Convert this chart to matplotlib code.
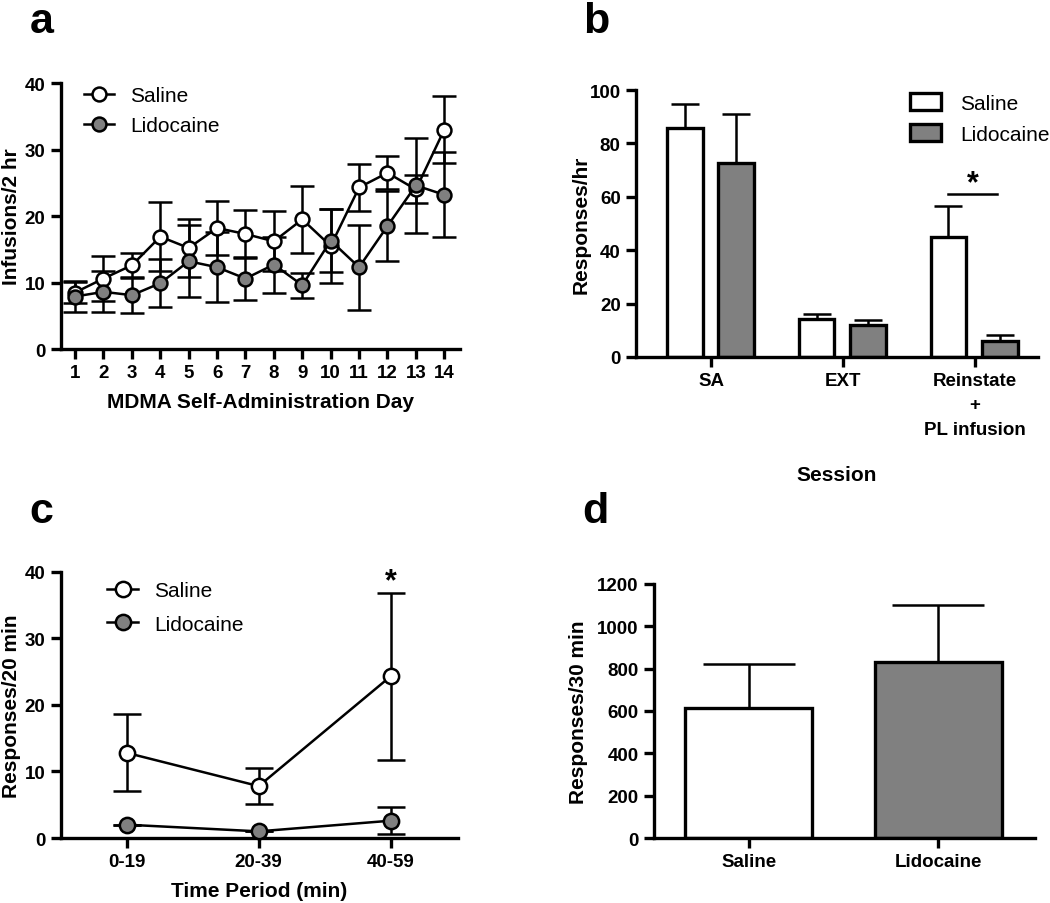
import numpy as np
import matplotlib.pyplot as plt

plt.rcParams['font.family'] = ['Liberation Sans', 'DejaVu Sans']
plt.rcParams['font.weight'] = 'bold'
plt.rcParams['axes.labelweight'] = 'bold'

GREY = '#808080'

# panel a
days = np.arange(1, 15)
sal_a = [8.5, 10.6, 12.6, 16.9, 15.2, 18.2, 17.3, 16.2, 19.5, 15.5, 24.3, 26.5, 24.0, 33.0]
sal_a_err = [1.6, 3.4, 1.9, 5.2, 4.3, 4.1, 3.6, 4.5, 5.0, 5.5, 3.6, 2.5, 2.1, 5.0]
lid_a = [7.9, 8.6, 8.1, 9.9, 13.2, 12.3, 10.6, 12.7, 9.6, 16.3, 12.3, 18.5, 24.6, 23.2]
lid_a_err = [2.4, 3.1, 2.7, 3.6, 5.4, 5.3, 3.2, 4.2, 1.9, 4.7, 6.4, 5.2, 7.2, 6.4]

# panel b
sessions = ['SA', 'EXT', 'Reinstate\n+\nPL infusion']
sal_b = [85.8, 14.1, 45.1]
sal_b_err = [9.1, 1.9, 11.3]
lid_b = [72.5, 12.0, 5.9]
lid_b_err = [18.6, 2.0, 2.2]

# panel c
periods = ['0-19', '20-39', '40-59']
sal_c = [12.8, 7.8, 24.3]
sal_c_err = [5.8, 2.7, 12.6]
lid_c = [2.0, 1.0, 2.6]
lid_c_err = [0.0, 0.0, 2.0]

# panel d
groups = ['Saline', 'Lidocaine']
resp_d = [614, 833]
resp_d_err = [208, 266]

fig = plt.figure(figsize=(10.5, 9.04), dpi=100)


def style(ax):
    for s in ['top', 'right']:
        ax.spines[s].set_visible(False)
    for s in ['left', 'bottom']:
        ax.spines[s].set_linewidth(2.4)
    ax.tick_params(width=2.4, length=7.5, labelsize=13.5, direction='out')


leg_prop = {'weight': 'normal', 'size': 15}
LAB = 15

# ---- a
ax = fig.add_axes([0.058, 0.6128, 0.38, 0.2942])
style(ax)
ax.errorbar(days, sal_a, yerr=sal_a_err, fmt='none', ecolor='k', elinewidth=1.8, capsize=8.5, capthick=1.8, zorder=1)
ax.errorbar(days, lid_a, yerr=lid_a_err, fmt='none', ecolor='k', elinewidth=1.8, capsize=8.5, capthick=1.8, zorder=1)
ax.plot(days, sal_a, '-o', color='k', lw=1.8, mfc='white', mec='k', ms=10, mew=1.8, label='Saline', zorder=3)
ax.plot(days, lid_a, '-o', color='k', lw=1.8, mfc=GREY, mec='k', ms=10, mew=1.8, label='Lidocaine', zorder=3)
ax.set_xlim(0.5, 14.55)
ax.set_ylim(0, 40)
ax.set_xticks(days)
ax.set_yticks([0, 10, 20, 30, 40])
ax.set_xlabel('MDMA Self-Administration Day', fontsize=LAB, labelpad=8)
ax.set_ylabel('Infusions/2 hr', fontsize=LAB)
ax.yaxis.set_label_coords(-0.101, 0.5)
ax.legend(loc='upper left', bbox_to_anchor=(0.01, 1.06), frameon=False, prop=leg_prop,
          handlelength=1.45, handletextpad=0.8, labelspacing=0.55)
fig.text(0.028, 0.9635, 'a', fontsize=31, fontweight='bold', va='baseline')

# ---- b
ax = fig.add_axes([0.6057, 0.604, 0.3829, 0.2953])
style(ax)
xb = np.arange(len(sessions))
w = 0.27
ax.errorbar(xb - 0.2, sal_b, yerr=[np.zeros(3), sal_b_err], fmt='none', ecolor='k', elinewidth=1.8, capsize=10, capthick=1.8, zorder=1)
ax.errorbar(xb + 0.19, lid_b, yerr=[np.zeros(3), lid_b_err], fmt='none', ecolor='k', elinewidth=1.8, capsize=10, capthick=1.8, zorder=1)
ax.bar(xb - 0.2, sal_b, w, color='white', edgecolor='k', linewidth=2.4, label='Saline', zorder=2)
ax.bar(xb + 0.19, lid_b, w, color=GREY, edgecolor='k', linewidth=2.4, label='Lidocaine', zorder=2)
ax.plot([2 - 0.2, 2 + 0.17], [61, 61], color='k', lw=1.8)
ax.text(1.985, 59.5, '*', ha='center', va='bottom', fontsize=22, fontweight='bold')
ax.set_xlim(-0.57, 2.48)
ax.set_ylim(0, 100)
ax.set_xticks(xb)
ax.set_xticklabels(sessions, linespacing=1.55)
ax.set_yticks([0, 20, 40, 60, 80, 100])
ax.set_xlabel('Session', fontsize=LAB, labelpad=20)
ax.set_ylabel('Responses/hr', fontsize=LAB)
ax.yaxis.set_label_coords(-0.114, 0.5)
ax.legend(loc='upper left', bbox_to_anchor=(0.635, 1.06), frameon=False, prop=leg_prop,
          handlelength=1.5, handleheight=0.9, handletextpad=0.9, labelspacing=0.55)
fig.text(0.555, 0.9635, 'b', fontsize=31, fontweight='bold', va='baseline')

# ---- c
ax = fig.add_axes([0.058, 0.0719, 0.378, 0.2943])
style(ax)
xc = np.arange(len(periods))
ax.errorbar(xc, sal_c, yerr=sal_c_err, fmt='none', ecolor='k', elinewidth=1.8, capsize=10, capthick=1.8, zorder=1)
ax.errorbar(xc, lid_c, yerr=lid_c_err, fmt='none', ecolor='k', elinewidth=1.8, capsize=10, capthick=1.8, zorder=1)
ax.plot(xc, sal_c, '-o', color='k', lw=1.8, mfc='white', mec='k', ms=11, mew=1.8, label='Saline', zorder=3, clip_on=False)
ax.plot(xc, lid_c, '-o', color='k', lw=1.8, mfc=GREY, mec='k', ms=11, mew=1.8, label='Lidocaine', zorder=3, clip_on=False)
ax.text(2, 36.3, '*', ha='center', va='bottom', fontsize=22, fontweight='bold')
ax.set_xlim(-0.5, 2.51)
ax.set_ylim(0, 40)
ax.set_xticks(xc)
ax.set_xticklabels(periods)
ax.set_yticks([0, 10, 20, 30, 40])
ax.set_xlabel('Time Period (min)', fontsize=LAB, labelpad=8)
ax.set_ylabel('Responses/20 min', fontsize=LAB)
ax.yaxis.set_label_coords(-0.101, 0.5)
ax.legend(loc='upper left', bbox_to_anchor=(0.07, 1.036), frameon=False, prop=leg_prop,
          handlelength=1.45, handletextpad=0.8, labelspacing=0.69)
fig.text(0.028, 0.4215, 'c', fontsize=31, fontweight='bold', va='baseline')

# ---- d
ax = fig.add_axes([0.6229, 0.0719, 0.3628, 0.281])
style(ax)
xd = np.arange(len(groups))
ax.errorbar(xd, resp_d, yerr=[np.zeros(2), resp_d_err], fmt='none', ecolor='k', elinewidth=1.8, capsize=33, capthick=1.8, zorder=1)
ax.bar(xd, resp_d, 0.67, color=['white', GREY], edgecolor='k', linewidth=2.4, zorder=2)
ax.set_xlim(-0.5, 1.51)
ax.set_ylim(0, 1200)
ax.set_xticks(xd)
ax.set_xticklabels(groups)
ax.set_yticks(np.arange(0, 1201, 200))
ax.set_ylabel('Responses/30 min', fontsize=LAB)
ax.yaxis.set_label_coords(-0.173, 0.5)
fig.text(0.555, 0.4215, 'd', fontsize=31, fontweight='bold', va='baseline')

fig.savefig('out.png', dpi=100)
